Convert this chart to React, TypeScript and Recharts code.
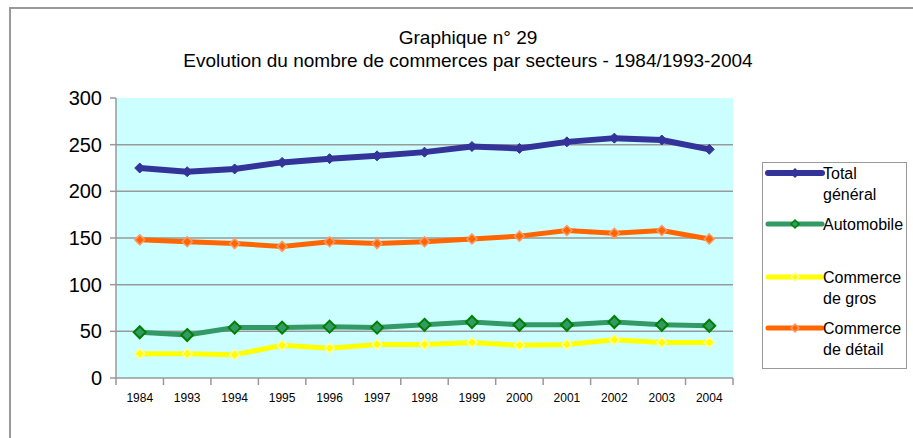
import React from 'react';
import { LineChart, Line, XAxis, YAxis, CartesianGrid } from 'recharts';

const years = ['1984', '1993', '1994', '1995', '1996', '1997', '1998', '1999', '2000', '2001', '2002', '2003', '2004'];
const totalGeneral = [225, 221, 224, 231, 235, 238, 242, 248, 246, 253, 257, 255, 245];
const automobile = [49, 46, 54, 54, 55, 54, 57, 60, 57, 57, 60, 57, 56];
const commerceGros = [26, 26, 25, 35, 32, 36, 36, 38, 35, 36, 41, 38, 38];
const commerceDetail = [148, 146, 144, 141, 146, 144, 146, 149, 152, 158, 155, 158, 149];
const yTicks = [0, 50, 100, 150, 200, 250, 300];

const data = years.map((y, i) => ({
  year: y,
  total: totalGeneral[i],
  auto: automobile[i],
  gros: commerceGros[i],
  detail: commerceDetail[i],
}));

const FONT = 'Arial, "Liberation Sans", sans-serif';
const W = 913;
const H = 438;
const MARGIN = { top: 98, right: 180, left: 56, bottom: 0 };
const Y_W = 60;
const X_H = 60;
const PLOT_W = W - MARGIN.left - MARGIN.right - Y_W;
const BW = PLOT_W / years.length;

const diamond = (fill: string, stroke: string, r: number, sw: number) => (props: any) => {
  const { cx, cy, index } = props;
  if (cx == null || cy == null) return <g key={index} />;
  return (
    <path
      key={index}
      d={`M${cx},${cy - r}L${cx + r},${cy}L${cx},${cy + r}L${cx - r},${cy}Z`}
      fill={fill}
      stroke={stroke}
      strokeWidth={sw}
    />
  );
};

const XTick = (props: any) => {
  const { x, y, payload, index } = props;
  const left = x - BW / 2;
  return (
    <g>
      <line x1={left} y1={y - 2} x2={left} y2={y + 5} stroke="#999" strokeWidth={1.5} />
      {index === years.length - 1 && (
        <line x1={x + BW / 2} y1={y - 2} x2={x + BW / 2} y2={y + 5} stroke="#999" strokeWidth={1.5} />
      )}
      <text x={x} y={y + 22} textAnchor="middle" fontSize={12} fontFamily={FONT} fill="#000">
        {payload.value}
      </text>
    </g>
  );
};

const legendItems = [
  { label: ['Total', 'général'], color: '#333399', fill: '#333399', stroke: '#333399', y: 173, w: 6 },
  { label: ['Automobile'], color: '#339966', fill: '#339966', stroke: '#008000', y: 224, w: 5 },
  { label: ['Commerce', 'de gros'], color: '#FFFF00', fill: '#FFFF00', stroke: '#FFFF99', y: 277, w: 5 },
  { label: ['Commerce', 'de détail'], color: '#FF6600', fill: '#FF6600', stroke: '#FF9966', y: 328, w: 5 },
];

export default function App() {
  return (
    <div style={{ position: 'fixed', left: 0, top: 0, width: W, height: H, background: '#fff', overflow: 'hidden' }}>
      <div
        style={{
          position: 'absolute',
          left: 9,
          top: 7,
          width: W + 20,
          height: H + 20,
          borderLeft: '2px solid #999',
          borderTop: '2px solid #999',
        }}
      />
      <div
        style={{
          position: 'absolute',
          left: 0,
          width: 936,
          top: 26,
          textAlign: 'center',
          fontFamily: FONT,
          fontSize: 19,
          lineHeight: '23px',
          color: '#000',
        }}
      >
        <div>Graphique n° 29</div>
        <div>Evolution du nombre de commerces par secteurs - 1984/1993-2004</div>
      </div>
      <div style={{ position: 'absolute', left: 0, top: 0 }}>
        <LineChart width={W} height={H} data={data} margin={MARGIN}>
          <CartesianGrid
            vertical={false}
            horizontalValues={[50, 100, 150, 200, 250]}
            stroke="#999"
            strokeWidth={1.5}
            fill="#CCFFFF"
          />
          <XAxis
            dataKey="year"
            height={X_H}
            stroke="#999"
            strokeWidth={1.5}
            tickLine={false}
            tickSize={0}
            tick={<XTick />}
            interval={0}
            padding={{ left: BW / 2, right: BW / 2 }}
          />
          <YAxis
            width={Y_W}
            domain={[0, 300]}
            ticks={yTicks}
            stroke="#999"
            strokeWidth={1.5}
            tickSize={6}
            tickMargin={8}
            tick={{ fontSize: 20, fontFamily: FONT, fill: '#000' }}
          />
          <Line
            dataKey="total"
            stroke="#333399"
            strokeWidth={6}
            dot={diamond('#333399', '#333399', 5, 1)}
            isAnimationActive={false}
          />
          <Line
            dataKey="detail"
            stroke="#FF6600"
            strokeWidth={5}
            dot={diamond('#FF6600', '#FF9966', 5, 1.5)}
            isAnimationActive={false}
          />
          <Line
            dataKey="auto"
            stroke="#339966"
            strokeWidth={5}
            dot={diamond('#339966', '#008000', 6, 2)}
            isAnimationActive={false}
          />
          <Line
            dataKey="gros"
            stroke="#FFFF00"
            strokeWidth={5}
            dot={diamond('#FFFF00', '#FFFF99', 5, 1.5)}
            isAnimationActive={false}
          />
        </LineChart>
      </div>
      <div
        style={{
          position: 'absolute',
          left: 762,
          top: 162,
          width: 143,
          height: 205,
          border: '1.5px solid #999',
          background: '#fff',
        }}
      />
      <svg style={{ position: 'absolute', left: 0, top: 0 }} width={W} height={H}>
        {legendItems.map((it, i) => (
          <g key={i}>
            <line x1={768} x2={822} y1={it.y} y2={it.y} stroke={it.color} strokeWidth={it.w} strokeLinecap="round" />
            {diamond(it.fill, it.stroke, 4, 1.5)({ cx: 795, cy: it.y, index: i })}
            {it.label.map((t, j) => (
              <text key={j} x={823} y={it.y + 6 + j * 21} fontSize={16} fontFamily={FONT} fill="#000">
                {t}
              </text>
            ))}
          </g>
        ))}
      </svg>
    </div>
  );
}
